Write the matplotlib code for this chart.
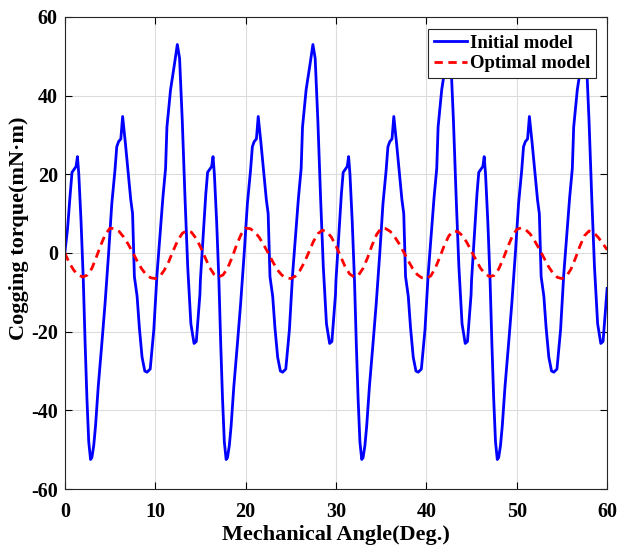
import numpy as np
import matplotlib.pyplot as plt

# initial model, key points (deg, mN*m)
init_x = [0.00, 0.30, 0.60, 0.80, 1.10, 1.25, 1.40, 1.55, 1.80, 2.05, 2.25, 2.45, 2.65, 2.85, 3.00, 3.20, 3.40, 3.70, 4.10, 4.45,
          4.85, 5.20, 5.55, 5.75, 5.95, 6.20, 6.40, 6.70, 7.05, 7.30, 7.50, 7.70, 8.00, 8.25, 8.55, 8.85, 9.10, 9.45, 9.85, 10.20,
          10.55, 10.85, 11.15, 11.30, 11.70, 12.10, 12.45, 12.70, 13.00, 13.30, 13.60, 13.95, 14.30, 14.55, 14.95,
          15.00, 15.30, 15.60, 15.80, 16.10, 16.25, 16.40, 16.55, 16.80, 17.05, 17.25, 17.45, 17.65, 17.85, 18.00, 18.20, 18.40, 18.70, 19.10, 19.45,
          19.85, 20.20, 20.55, 20.75, 20.95, 21.20, 21.40, 21.70, 22.05, 22.30, 22.50, 22.70, 23.00, 23.25, 23.55, 23.85, 24.10, 24.45, 24.85, 25.20,
          25.55, 25.85, 26.15, 26.30, 26.70, 27.10, 27.45, 27.70, 28.00, 28.30, 28.60, 28.95, 29.30, 29.55, 29.95,
          30.00, 30.30, 30.60, 30.80, 31.10, 31.25, 31.40, 31.55, 31.80, 32.05, 32.25, 32.45, 32.65, 32.85, 33.00, 33.20, 33.40, 33.70, 34.10, 34.45,
          34.85, 35.20, 35.55, 35.75, 35.95, 36.20, 36.40, 36.70, 37.05, 37.30, 37.50, 37.70, 38.00, 38.25, 38.55, 38.85, 39.10, 39.45, 39.85, 40.20,
          40.55, 40.85, 41.15, 41.30, 41.70, 42.10, 42.45, 42.70, 43.00, 43.30, 43.60, 43.95, 44.30, 44.55, 44.95,
          45.00, 45.30, 45.60, 45.80, 46.10, 46.25, 46.40, 46.55, 46.80, 47.05, 47.25, 47.45, 47.65, 47.85, 48.00, 48.20, 48.40, 48.70, 49.10, 49.45,
          49.85, 50.20, 50.55, 50.75, 50.95, 51.20, 51.40, 51.70, 52.05, 52.30, 52.50, 52.70, 53.00, 53.25, 53.55, 53.85, 54.10, 54.45, 54.85, 55.20,
          55.55, 55.85, 56.15, 56.30, 56.70, 57.10, 57.45, 57.70, 58.00, 58.30, 58.60, 58.95, 59.30, 59.55, 59.95, 60.00]
init_y = [0.0, 6.0, 15.0, 20.5, 21.5, 22.0, 24.5, 20.0, 8.0, -7.0, -23.0, -37.0, -48.0, -52.5, -52.0, -49.0, -44.0, -34.0, -23.0, -13.0,
          0.0, 12.5, 21.0, 27.0, 28.3, 29.0, 34.7, 28.0, 19.5, 13.5, 10.0, -6.0, -11.0, -19.0, -26.5, -30.0, -30.3, -29.5, -19.5, -5.5,
          5.0, 14.0, 21.5, 32.0, 41.5, 47.5, 53.0, 49.5, 33.5, 14.0, -3.5, -18.0, -23.0, -22.5, -10.5,
          -7.0, 4.0, 15.0, 20.5, 21.5, 22.0, 24.5, 20.0, 8.0, -7.0, -23.0, -37.0, -48.0, -52.5, -52.0, -49.0, -44.0, -34.0, -23.0, -13.0,
          0.0, 12.5, 21.0, 27.0, 28.3, 29.0, 34.7, 28.0, 19.5, 13.5, 10.0, -6.0, -11.0, -19.0, -26.5, -30.0, -30.3, -29.5, -19.5, -5.5,
          5.0, 14.0, 21.5, 32.0, 41.5, 47.5, 53.0, 49.5, 33.5, 14.0, -3.5, -18.0, -23.0, -22.5, -10.5,
          -7.0, 4.0, 15.0, 20.5, 21.5, 22.0, 24.5, 20.0, 8.0, -7.0, -23.0, -37.0, -48.0, -52.5, -52.0, -49.0, -44.0, -34.0, -23.0, -13.0,
          0.0, 12.5, 21.0, 27.0, 28.3, 29.0, 34.7, 28.0, 19.5, 13.5, 10.0, -6.0, -11.0, -19.0, -26.5, -30.0, -30.3, -29.5, -19.5, -5.5,
          5.0, 14.0, 21.5, 32.0, 41.5, 47.5, 53.0, 49.5, 33.5, 14.0, -3.5, -18.0, -23.0, -22.5, -10.5,
          -7.0, 4.0, 15.0, 20.5, 21.5, 22.0, 24.5, 20.0, 8.0, -7.0, -23.0, -37.0, -48.0, -52.5, -52.0, -49.0, -44.0, -34.0, -23.0, -13.0,
          0.0, 12.5, 21.0, 27.0, 28.3, 29.0, 34.7, 28.0, 19.5, 13.5, 10.0, -6.0, -11.0, -19.0, -26.5, -30.0, -30.3, -29.5, -19.5, -5.5,
          5.0, 14.0, 21.5, 32.0, 41.5, 47.5, 53.0, 49.5, 33.5, 14.0, -3.5, -18.0, -23.0, -22.5, -10.5, -9.0]

# optimal model, read every 0.5 deg
opt_x = np.arange(0, 60.01, 0.5)
opt_y = [0.0, -2.5, -4.4, -5.6, -6.1, -5.6, -3.9, -1.0, 2.1, 4.8, 6.3,
         6.2, 5.5, 4.1, 2.3, 0.2, -2.0, -4.0, -5.5, -6.3, -6.5,
         -6.0, -4.4, -2.2, 0.6, 3.2, 5.0, 5.7, 5.3, 3.8, 1.6,
         -1.0, -3.6, -5.4, -6.1, -5.6, -3.9, -1.2, 2.0, 4.7, 6.3,
         6.2, 5.4, 4.0, 2.1, 0.0, -2.2, -4.2, -5.6, -6.3, -6.5,
         -5.9, -4.5, -2.4, 0.2, 2.9, 4.9, 5.8, 5.4, 4.0, 1.8,
         -0.8, -3.4, -5.3, -6.1, -5.6, -3.9, -1.2, 2.0, 4.7, 6.3,
         6.2, 5.5, 4.1, 2.3, 0.2, -2.0, -4.0, -5.5, -6.3, -6.5,
         -5.8, -3.8, -1.0, 2.0, 4.4, 5.6, 5.4, 4.4, 2.6, 0.4,
         -1.8, -3.9, -5.3, -6.0, -5.7, -4.1, -1.5, 1.5, 4.2, 6.0,
         6.4, 5.9, 4.8, 3.0, 1.0, -1.2, -3.4, -5.1, -6.2, -6.5,
         -5.9, -4.1, -1.3, 1.8, 4.4, 5.6, 5.2, 4.0, 2.5, 0.8]

x_ticks = [0, 10, 20, 30, 40, 50, 60]
y_ticks = [-60, -40, -20, 0, 20, 40, 60]

plt.rcParams['font.family'] = 'Liberation Serif'
plt.rcParams['font.weight'] = 'bold'
plt.rcParams['axes.unicode_minus'] = False

fig = plt.figure(figsize=(6.17, 5.47), dpi=100)
ax = fig.add_axes([0.105, 0.106, 0.879, 0.863])
ax.plot(init_x, init_y, color='#0000ff', lw=2.0, label='Initial model')
ax.plot(opt_x, opt_y, color='#ff0000', lw=2.0, ls=(0, (3, 2)), label='Optimal model')
ax.set_xlim(0, 60)
ax.set_ylim(-60, 60)
ax.set_xticks(x_ticks)
ax.set_yticks(y_ticks)
ax.tick_params(direction='in', top=True, right=True, labelsize=14.5, length=5, width=0.8)
ax.tick_params(axis='x', pad=9)
ax.tick_params(axis='y', pad=5)
for lab in ax.get_xticklabels() + ax.get_yticklabels():
    lab.set_fontweight('bold')
ax.grid(True, color='#dcdcdc', lw=0.8)
ax.set_axisbelow(True)
for sp in ax.spines.values():
    sp.set_color('#262626')
    sp.set_linewidth(0.8)
ax.set_xlabel('Mechanical Angle(Deg.)', fontsize=16, fontweight='bold', labelpad=2.5)
ax.set_ylabel('Cogging torque(mN·m)', fontsize=16, fontweight='bold')
ax.yaxis.set_label_coords(-0.066, 0.553)
leg = ax.legend(loc='upper right', bbox_to_anchor=(0.98, 0.975), fontsize=13.5,
                handlelength=1.8, handletextpad=0.15, borderpad=0.3, labelspacing=0.2,
                fancybox=False, framealpha=1, borderaxespad=0)
leg.get_frame().set_edgecolor('#262626')
leg.get_frame().set_linewidth(0.8)
for t in leg.get_texts():
    t.set_fontweight('bold')

plt.savefig('out.png', dpi=100)
